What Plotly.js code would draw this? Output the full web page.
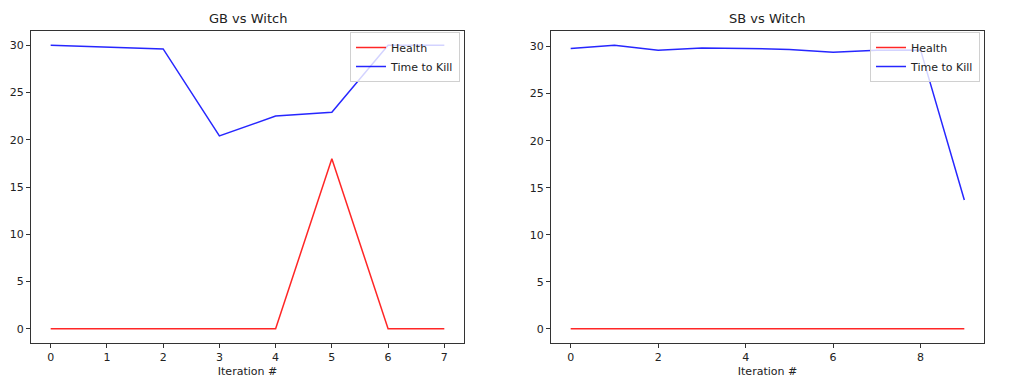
<!DOCTYPE html>
<html>
<head>
<meta charset="utf-8">
<script src="https://cdn.plot.ly/plotly-3.0.1.min.js"></script>
<style>html,body{margin:0;padding:0;background:#fff;}#chart{width:1020px;height:392px;}</style>
</head>
<body>
<div id="chart"></div>
<script>
// Data
const gbIterations = [0, 1, 2, 3, 4, 5, 6, 7];
const gbHealth = [0, 0, 0, 0, 0, 18, 0, 0];
const gbTimeToKill = [30.0, 29.8, 29.6, 20.4, 22.5, 22.9, 30.0, 30.0];

const sbIterations = [0, 1, 2, 3, 4, 5, 6, 7, 8, 9];
const sbHealth = [0, 0, 0, 0, 0, 0, 0, 0, 0, 0];
const sbTimeToKill = [29.8, 30.15, 29.6, 29.85, 29.8, 29.7, 29.4, 29.6, 29.65, 13.7];

const subplotTitles = ["GB vs Witch", "SB vs Witch"];
const xTitle = "Iteration #";
const yTicks = [0, 5, 10, 15, 20, 25, 30];

const red = 'rgba(255,0,0,0.85)';
const blue = 'rgba(0,0,255,0.85)';
const font = {family: 'DejaVu Sans, sans-serif', size: 11, color: '#222'};

const traces = [
  {x: gbIterations, y: gbHealth, name: 'Health', mode: 'lines', line: {color: red, width: 1.5}, xaxis: 'x', yaxis: 'y', legend: 'legend'},
  {x: gbIterations, y: gbTimeToKill, name: 'Time to Kill', mode: 'lines', line: {color: blue, width: 1.5}, xaxis: 'x', yaxis: 'y', legend: 'legend'},
  {x: sbIterations, y: sbHealth, name: 'Health', mode: 'lines', line: {color: red, width: 1.5}, xaxis: 'x2', yaxis: 'y2', legend: 'legend2'},
  {x: sbIterations, y: sbTimeToKill, name: 'Time to Kill', mode: 'lines', line: {color: blue, width: 1.5}, xaxis: 'x2', yaxis: 'y2', legend: 'legend2'}
];

function pad(arr, frac) {
  const mn = Math.min(...arr), mx = Math.max(...arr);
  const d = (mx - mn) * frac;
  return [mn - d, mx + d];
}

const axisCommon = {
  showgrid: false, zeroline: false, showline: true, mirror: true,
  linecolor: '#333', linewidth: 1, ticks: 'outside', ticklen: 4, tickcolor: '#333',
  tickfont: font
};

const H = 392, W = 1020;
const yDom = [(H - 343) / H, (H - 31) / H];

const legendCommon = {
  bgcolor: 'rgba(255,255,255,0.8)', bordercolor: '#d0d0d0', borderwidth: 1,
  font: {family: 'DejaVu Sans, sans-serif', size: 11, color: '#222'},
  xanchor: 'right', yanchor: 'top', tracegroupgap: 0, itemwidth: 30
};

const layout = {
  width: W, height: H,
  margin: {l: 0, r: 0, t: 0, b: 0},
  paper_bgcolor: '#fff', plot_bgcolor: '#fff',
  showlegend: true,
  xaxis: Object.assign({}, axisCommon, {domain: [31 / W, 464 / W], range: pad(gbIterations, 0.05), dtick: 1, tick0: 0,
    title: {text: xTitle, font: font, standoff: 4}, anchor: 'y'}),
  yaxis: Object.assign({}, axisCommon, {domain: yDom, range: pad(gbHealth.concat(gbTimeToKill), 0.05), tickvals: yTicks, anchor: 'x'}),
  xaxis2: Object.assign({}, axisCommon, {domain: [551 / W, 984 / W], range: pad(sbIterations, 0.05), dtick: 2, tick0: 0,
    title: {text: xTitle, font: font, standoff: 4}, anchor: 'y2'}),
  yaxis2: Object.assign({}, axisCommon, {domain: yDom, range: pad(sbHealth.concat(sbTimeToKill), 0.05), tickvals: yTicks, anchor: 'x2'}),
  legend: Object.assign({}, legendCommon, {x: 460 / W, y: (H - 32) / H, xref: 'paper', yref: 'paper'}),
  legend2: Object.assign({}, legendCommon, {x: 980 / W, y: (H - 32) / H, xref: 'paper', yref: 'paper'}),
  annotations: [
    {text: subplotTitles[0], x: (31 + 464) / 2 / W, y: (H - 18) / H, xref: 'paper', yref: 'paper', showarrow: false,
     xanchor: 'center', yanchor: 'middle', font: {family: 'DejaVu Sans, sans-serif', size: 13, color: '#222'}},
    {text: subplotTitles[1], x: (551 + 984) / 2 / W, y: (H - 18) / H, xref: 'paper', yref: 'paper', showarrow: false,
     xanchor: 'center', yanchor: 'middle', font: {family: 'DejaVu Sans, sans-serif', size: 13, color: '#222'}}
  ]
};

Plotly.newPlot('chart', traces, layout, {displayModeBar: false, staticPlot: true});
</script>
</body>
</html>
